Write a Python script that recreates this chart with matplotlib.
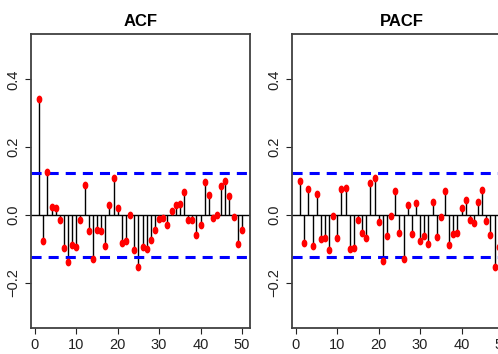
import numpy as np
import matplotlib
matplotlib.use("Agg")
import matplotlib.pyplot as plt
from matplotlib.path import Path

plt.rcParams['font.family'] = ['Liberation Sans', 'DejaVu Sans']

# values
lags = np.arange(1, 51)
acf_vals = [0.342, -0.076, 0.128, 0.022, 0.019, -0.016, -0.097, -0.139, -0.088, -0.094,
            -0.015, 0.089, -0.049, -0.130, -0.044, -0.049, -0.091, 0.030, 0.109, 0.021,
            -0.083, -0.076, 0.001, -0.105, -0.153, -0.096, -0.100, -0.073, -0.044, -0.013,
            -0.010, -0.030, 0.010, 0.030, 0.033, 0.068, -0.014, -0.014, -0.059, -0.030,
            0.097, 0.060, -0.010, 0.001, 0.084, 0.100, 0.056, -0.006, -0.086, -0.046]
pacf_vals = [0.100, -0.083, 0.077, -0.091, 0.062, -0.071, -0.068, -0.105, -0.003, -0.068,
             0.077, 0.080, -0.102, -0.097, -0.015, -0.053, -0.068, 0.094, 0.109, -0.021,
             -0.136, -0.062, -0.003, 0.071, -0.053, -0.130, 0.029, -0.056, 0.035, -0.077,
             -0.062, -0.086, 0.038, -0.065, -0.006, 0.071, -0.088, -0.056, -0.053, 0.021,
             0.044, -0.015, -0.024, 0.038, 0.074, -0.018, -0.059, -0.153, -0.095, -0.030]
conf = 0.123
titles = ['ACF', 'PACF']
yticks = [-0.2, 0.0, 0.2, 0.4]
ylabels = ['\u22120.2', '0.0', '0.2', '0.4']
xticks = [0, 10, 20, 30, 40, 50]

# squashed dot marker (reference looks horizontally compressed)
t = np.linspace(0, 2 * np.pi, 40)
dot = Path(np.column_stack([0.68 * np.cos(t), np.sin(t)]))

W, H = 498, 354
fig = plt.figure(figsize=(W / 100, H / 100), dpi=100)
lefts = [31, 292]
for left, title, vals in zip(lefts, titles, [acf_vals, pacf_vals]):
    ax = fig.add_axes([left / W, (H - 328) / H, 219 / W, 294 / H])
    ax.vlines(lags, 0, vals, color='black', lw=1.0)
    ax.axhline(0, color='black', lw=1.0)
    ax.axhline(conf, color='blue', lw=2.2, ls=(0, (3.3, 2.3)))
    ax.axhline(-conf, color='blue', lw=2.2, ls=(0, (3.3, 2.3)))
    ax.plot(lags, vals, ls='none', marker=dot, ms=4.6, color='red', mec='red')
    ax.set_xlim(-0.96, 51.96)
    ax.set_ylim(-0.334, 0.534)
    ax.set_xticks(xticks)
    ax.set_yticks(yticks)
    ax.set_yticklabels(ylabels, rotation=90, va='center')
    ax.tick_params(labelsize=10.5, length=4.5, width=0.8, pad=3, colors='#222222')
    for s in ax.spines.values():
        s.set_color('#404040')
        s.set_linewidth(1.3)
    ax.set_title(title, fontsize=12, fontweight='bold', pad=6)

fig.savefig('out.png', dpi=100)
